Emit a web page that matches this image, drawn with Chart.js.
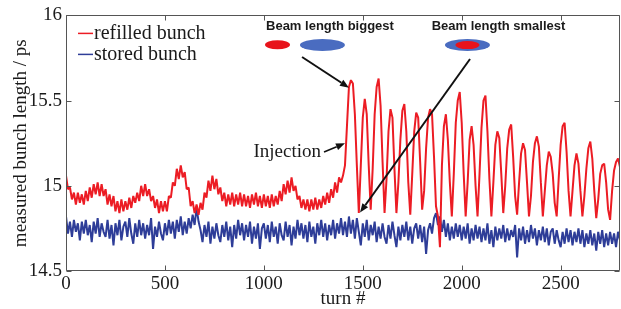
<!DOCTYPE html>
<html>
<head>
<meta charset="utf-8">
<script src="https://cdn.jsdelivr.net/npm/chart.js@4.4.0/dist/chart.umd.min.js"></script>
<style>
  html, body { margin: 0; padding: 0; background: #fff; }
</style>
</head>
<body>
<canvas id="bunchChart" width="621" height="309"></canvas>
<script>
// sampling of the turn axis (one value every 10 turns, 0..2800)
const turnStep = 10;

// refilled bunch
const refilled = [
  15.06, 14.98, 14.99, 14.92, 14.96, 14.89, 14.96, 14.90, 14.95, 14.89,
  14.97, 14.91, 14.99, 14.93, 15.01, 14.95, 15.02, 14.94, 15.01, 14.94,
  14.98, 14.89, 14.95, 14.88, 14.94, 14.85, 14.91, 14.84, 14.92, 14.85,
  14.91, 14.86, 14.93, 14.87, 14.94, 14.90, 14.96, 14.91, 15.00, 14.94,
  15.01, 14.94, 14.98, 14.91, 14.94, 14.87, 14.92, 14.84, 14.91, 14.85,
  14.91, 14.85, 14.94, 14.93, 15.02, 15.00, 15.10, 15.04, 15.12, 15.05,
  15.08, 14.98, 14.99, 14.88, 14.91, 14.84, 14.89, 14.83, 14.90, 14.86,
  14.96, 14.93, 15.03, 14.97, 15.06, 14.98, 15.04, 14.95, 14.99, 14.91,
  14.96, 14.88, 14.95, 14.89, 14.96, 14.88, 14.95, 14.89, 14.96, 14.88,
  14.95, 14.88, 14.94, 14.87, 14.95, 14.89, 14.96, 14.88, 14.94, 14.87,
  14.95, 14.88, 14.94, 14.87, 14.95, 14.88, 14.94, 14.89, 14.97, 14.91,
  15.01, 14.95, 15.03, 14.96, 15.05, 14.97, 15.00, 14.92, 14.94, 14.87,
  14.92, 14.86, 14.92, 14.85, 14.92, 14.86, 14.93, 14.86, 14.92, 14.87,
  14.94, 14.89, 14.96, 14.90, 14.98, 14.93, 15.02, 14.96, 15.05, 15.02,
  15.06, 15.12, 15.35, 15.58, 15.62, 15.60, 15.42, 15.12, 14.84, 15.12,
  15.40, 15.51, 15.42, 15.12, 14.86, 15.10, 15.42, 15.58, 15.63, 15.47,
  15.14, 14.84, 15.04, 15.32, 15.45, 15.40, 15.10, 14.84, 15.02, 15.27,
  15.44, 15.48, 15.32, 15.02, 14.83, 15.07, 15.32, 15.43, 15.40, 15.14,
  14.86, 14.97, 15.22, 15.40, 15.45, 15.42, 15.17, 14.88, 14.82, 14.64,
  15.12, 15.35, 15.42, 15.27, 15.02, 14.82, 15.07, 15.37, 15.50, 15.55,
  15.37, 15.07, 14.82, 15.02, 15.27, 15.35, 15.24, 15.00, 14.82, 15.07,
  15.34, 15.50, 15.53, 15.32, 15.04, 14.82, 15.02, 15.24, 15.32, 15.28,
  15.07, 14.84, 15.00, 15.22, 15.33, 15.36, 15.17, 14.94, 14.83, 15.02,
  15.19, 15.25, 15.21, 15.02, 14.82, 14.94, 15.14, 15.25, 15.29, 15.23,
  15.02, 14.82, 14.97, 15.12, 15.20, 15.17, 15.07, 14.90, 14.82, 15.04,
  15.24, 15.35, 15.37, 15.20, 14.97, 14.82, 14.97, 15.12, 15.19, 15.13,
  14.97, 14.82, 14.94, 15.10, 15.22, 15.26, 15.16, 14.97, 14.81, 14.92,
  15.07, 15.12, 15.13, 15.02, 14.86, 14.80, 14.97, 15.09, 15.14, 15.16,
  15.11
];

// stored bunch
const stored = [
  14.82, 14.72, 14.79, 14.70, 14.80, 14.73, 14.78, 14.68, 14.79, 14.72,
  14.80, 14.71, 14.77, 14.67, 14.79, 14.72, 14.81, 14.70, 14.78, 14.73,
  14.70, 14.80, 14.69, 14.77, 14.65, 14.78, 14.71, 14.80, 14.68, 14.76,
  14.79, 14.70, 14.81, 14.72, 14.66, 14.78, 14.70, 14.80, 14.71, 14.78,
  14.69, 14.77, 14.71, 14.81, 14.63, 14.76, 14.70, 14.79, 14.72, 14.68,
  14.78, 14.71, 14.80, 14.72, 14.79, 14.69, 14.80, 14.73, 14.82, 14.71,
  14.79, 14.72, 14.81, 14.75, 14.83, 14.77, 14.87, 14.79, 14.74, 14.67,
  14.77, 14.70, 14.79, 14.66, 14.76, 14.69, 14.78, 14.71, 14.67, 14.77,
  14.70, 14.79, 14.68, 14.76, 14.64, 14.77, 14.69, 14.80, 14.71, 14.78,
  14.68, 14.77, 14.70, 14.79, 14.66, 14.76, 14.69, 14.78, 14.63, 14.75,
  14.78, 14.69, 14.77, 14.67, 14.79, 14.70, 14.76, 14.66, 14.78, 14.71,
  14.68, 14.79, 14.70, 14.77, 14.65, 14.76, 14.69, 14.80, 14.71, 14.78,
  14.69, 14.77, 14.67, 14.79, 14.70, 14.76, 14.66, 14.78, 14.71, 14.80,
  14.70, 14.78, 14.68, 14.77, 14.71, 14.80, 14.69, 14.78, 14.72, 14.81,
  14.71, 14.79, 14.70, 14.82, 14.72, 14.80, 14.69, 14.81, 14.73, 14.65,
  14.78, 14.70, 14.80, 14.68, 14.77, 14.71, 14.79, 14.67, 14.76, 14.69,
  14.78, 14.70, 14.66, 14.77, 14.69, 14.79, 14.71, 14.64, 14.76, 14.68,
  14.77, 14.70, 14.79, 14.68, 14.76, 14.66, 14.75, 14.78, 14.69, 14.77,
  14.67, 14.76, 14.60, 14.74, 14.78, 14.72, 14.81, 14.84, 14.77, 14.82,
  14.73, 14.80, 14.70, 14.78, 14.68, 14.76, 14.69, 14.78, 14.70, 14.77,
  14.68, 14.76, 14.69, 14.78, 14.66, 14.75, 14.68, 14.77, 14.69, 14.76,
  14.67, 14.75, 14.68, 14.78, 14.66, 14.74, 14.64, 14.76, 14.68, 14.75,
  14.69, 14.77, 14.67, 14.75, 14.68, 14.74, 14.70, 14.77, 14.58, 14.75,
  14.68, 14.76, 14.66, 14.74, 14.67, 14.77, 14.69, 14.75, 14.65, 14.74,
  14.68, 14.76, 14.67, 14.75, 14.65, 14.73, 14.75, 14.66, 14.74, 14.68,
  14.64, 14.73, 14.66, 14.75, 14.67, 14.74, 14.65, 14.73, 14.67, 14.75,
  14.66, 14.74, 14.64, 14.72, 14.66, 14.74, 14.65, 14.72, 14.62, 14.73,
  14.66, 14.74, 14.64, 14.72, 14.65, 14.73, 14.66, 14.72, 14.64, 14.73,
  14.68
];

const seriesNames = ["refilled bunch", "stored bunch"];
const seriesColors = ["#ec1c24", "#2e3d98"];
const xTicks = [0, 500, 1000, 1500, 2000, 2500];
const yTicks = [14.5, 15, 15.5, 16];

// annotation anchors in data units [turn, length]
const injectionLabel = [1289, 15.198];
const injectionArrow = [[1304, 15.198], [1410, 15.25]];
const biggestLabel = [1334, 15.936];
const smallestLabel = [2186, 15.936];
const biggestArrow = [[1193, 15.756], [1430, 15.576]];
const smallestArrow = [[2042, 15.744], [1486, 14.843]];
const biggestRed = [1069, 15.828];
const biggestBlue = [1296, 15.826];
const smallestBoth = [2029, 15.826];

const toPoints = vals => vals.map((v, i) => ({ x: i * turnStep, y: v }));

function arrow(ctx, x1, y1, x2, y2) {
  const ang = Math.atan2(y2 - y1, x2 - x1);
  const head = 9, half = 3.5;
  const bx = x2 - head * Math.cos(ang), by = y2 - head * Math.sin(ang);
  ctx.beginPath();
  ctx.moveTo(x1, y1);
  ctx.lineTo(bx, by);
  ctx.stroke();
  ctx.beginPath();
  ctx.moveTo(x2, y2);
  ctx.lineTo(bx + half * Math.sin(ang), by - half * Math.cos(ang));
  ctx.lineTo(bx - half * Math.sin(ang), by + half * Math.cos(ang));
  ctx.closePath();
  ctx.fill();
}

function ellipse(ctx, cx, cy, rx, ry, color) {
  ctx.fillStyle = color;
  ctx.beginPath();
  ctx.ellipse(cx, cy, rx, ry, 0, 0, Math.PI * 2);
  ctx.fill();
}

// notes drawn on top of the lines
const notes = {
  id: "notes",
  afterDatasetsDraw(chart) {
    const { ctx, scales: { x, y } } = chart;
    const px = p => [x.getPixelForValue(p[0]), y.getPixelForValue(p[1])];
    ctx.save();
    ctx.strokeStyle = "#111";
    ctx.fillStyle = "#111";
    ctx.lineWidth = 2;
    let a = px(biggestArrow[0]), b = px(biggestArrow[1]);
    arrow(ctx, a[0], a[1], b[0], b[1]);
    a = px(smallestArrow[0]); b = px(smallestArrow[1]);
    arrow(ctx, a[0], a[1], b[0], b[1]);
    ctx.lineWidth = 1.5;
    a = px(injectionArrow[0]); b = px(injectionArrow[1]);
    arrow(ctx, a[0], a[1], b[0], b[1]);

    ctx.fillStyle = "#1a1a1a";
    ctx.font = "19px 'Liberation Serif'";
    ctx.textAlign = "right";
    ctx.textBaseline = "middle";
    a = px(injectionLabel);
    ctx.fillText("Injection", a[0], a[1]);

    ctx.font = "bold 13px 'Liberation Sans'";
    ctx.textAlign = "center";
    a = px(biggestLabel);
    ctx.fillText("Beam length biggest", a[0], a[1]);
    a = px(smallestLabel);
    ctx.fillText("Beam length smallest", a[0], a[1]);

    a = px(biggestRed);
    ellipse(ctx, a[0], a[1], 12.5, 4.5, "#e8131b");
    a = px(biggestBlue);
    ellipse(ctx, a[0], a[1], 22.5, 6, "#4a6cc0");
    a = px(smallestBoth);
    ellipse(ctx, a[0], a[1], 22.5, 6, "#4a6cc0");
    ellipse(ctx, a[0], a[1], 12, 4, "#e8131b");
    ctx.restore();
  }
};

// box with inward ticks on all four sides, plus the legend
const frame = {
  id: "frame",
  afterDraw(chart) {
    const { ctx, chartArea: ca, scales: { x, y } } = chart;
    const L = Math.round(ca.left) + 0.5, R = Math.round(ca.right) - 0.5;
    const T = Math.round(ca.top) + 0.5, B = Math.round(ca.bottom) - 0.5;
    ctx.save();
    ctx.strokeStyle = "#555";
    ctx.lineWidth = 1;
    ctx.beginPath();
    ctx.rect(L, T, R - L, B - T);
    xTicks.forEach(t => {
      const p = Math.round(x.getPixelForValue(t)) + 0.5;
      ctx.moveTo(p, B); ctx.lineTo(p, B - 5);
      ctx.moveTo(p, T); ctx.lineTo(p, T + 5);
    });
    yTicks.forEach(t => {
      const p = Math.round(y.getPixelForValue(t)) + 0.5;
      ctx.moveTo(L, p); ctx.lineTo(L + 5, p);
      ctx.moveTo(R, p); ctx.lineTo(R - 5, p);
    });
    ctx.stroke();

    ctx.font = "20px 'Liberation Serif'";
    ctx.textAlign = "left";
    ctx.textBaseline = "middle";
    seriesNames.forEach((name, i) => {
      const ly = ca.top + 18 + i * 21;
      ctx.strokeStyle = seriesColors[i];
      ctx.lineWidth = 1.5;
      ctx.beginPath();
      ctx.moveTo(ca.left + 12, ly);
      ctx.lineTo(ca.left + 27, ly);
      ctx.stroke();
      ctx.fillStyle = "#1a1a1a";
      ctx.fillText(name, ca.left + 28, ly);
    });
    ctx.restore();
  }
};

const serif = "'Liberation Serif', 'Times New Roman', serif";

new Chart(document.getElementById("bunchChart"), {
  type: "line",
  data: {
    datasets: [
      { label: seriesNames[0], data: toPoints(refilled), borderColor: seriesColors[0], borderWidth: 2 },
      { label: seriesNames[1], data: toPoints(stored), borderColor: seriesColors[1], borderWidth: 2 }
    ]
  },
  options: {
    responsive: false,
    animation: false,
    elements: { point: { radius: 0 }, line: { tension: 0, borderJoinStyle: "bevel" } },
    layout: { padding: { left: 0, right: 1, top: 13, bottom: 0 } },
    plugins: { legend: { display: false }, tooltip: { enabled: false } },
    scales: {
      x: {
        type: "linear", min: 0, max: 2800,
        grid: { display: false, drawTicks: false },
        border: { display: false },
        afterBuildTicks: s => { s.ticks = xTicks.map(v => ({ value: v })); },
        ticks: {
          color: "#1a1a1a", padding: 2, maxRotation: 0,
          font: { family: serif, size: 19 },
          callback: v => String(v)
        },
        title: {
          display: true, text: "turn #", color: "#1a1a1a",
          font: { family: serif, size: 19, lineHeight: 1 },
          padding: { top: 0, bottom: 0 }
        },
        afterFit: s => { s.height = 38; }
      },
      y: {
        min: 14.5, max: 16,
        grid: { display: false, drawTicks: false },
        border: { display: false },
        afterBuildTicks: s => { s.ticks = yTicks.map(v => ({ value: v })); },
        ticks: {
          color: "#1a1a1a", padding: 4,
          font: { family: serif, size: 19 },
          callback: v => String(v)
        },
        title: {
          display: true, text: "measured bunch length / ps", color: "#1a1a1a",
          font: { family: serif, size: 19, lineHeight: 1 },
          padding: { top: 12, bottom: 0 }
        },
        afterFit: s => { s.width = 66; }
      }
    }
  },
  plugins: [notes, frame]
});
</script>
</body>
</html>
